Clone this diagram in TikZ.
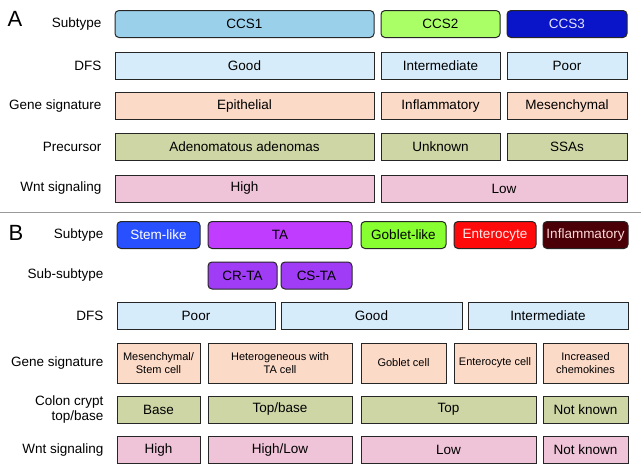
\documentclass[tikz,border=0pt]{standalone}
\usepackage{fontspec}
\setmainfont{Liberation Sans}
\usepackage{tikz}
\usetikzlibrary{positioning}
\definecolor{ccsone}{HTML}{9BD0EB}
\definecolor{ccstwo}{HTML}{AAFF66}
\definecolor{ccsthree}{HTML}{0A14C8}
\definecolor{dfsblue}{HTML}{D6ECFA}
\definecolor{genepeach}{HTML}{FCDAC8}
\definecolor{precolive}{HTML}{CED6A6}
\definecolor{wntpink}{HTML}{F0C4D8}
\definecolor{stemblue}{HTML}{2850FF}
\definecolor{tapurple}{HTML}{C03CFF}
\definecolor{subpurple}{HTML}{A03CF5}
\definecolor{gobletgreen}{HTML}{88FF30}
\definecolor{enterored}{HTML}{FF0A0A}
\definecolor{inflamred}{HTML}{4A0006}
\definecolor{linegray}{HTML}{999999}

\begin{document}
\begin{tikzpicture}[x=1pt, y=-1pt,
    every node/.style={font=\fontsize{13.5}{15}\selectfont},
    cell/.style={draw=black!85, line width=1pt, inner sep=0pt, minimum height=27pt},
    subbox/.style={cell, rounded corners=4pt},
    rowlabel/.style={anchor=east, align=right},
    panel/.style={font=\fontsize{22}{22}\selectfont},
    small/.style={font=\fontsize{11}{13.5}\selectfont, align=center}]
    \useasboundingbox (0,0) rectangle (641,474);

    % panel A
    \node[panel] (pA) at (15,19) {A};
    \node[rowlabel] (lsubA) at (105,24) {Subtype};
    \node[rowlabel] (ldfsA) at (105,65.5) {DFS};
    \node[rowlabel] (lgenA) at (105,106) {Gene signature};
    \node[rowlabel] (lpreA) at (105,147) {Precursor};
    \node[rowlabel] (lwntA) at (105,188.5) {Wnt signaling};

    \node[subbox, fill=ccsone, minimum width=259pt] (ccs1) at (244.5,24) {CCS1};
    \node[subbox, fill=ccstwo, minimum width=119pt] (ccs2) at (440.5,24) {CCS2};
    \node[subbox, fill=ccsthree, text=blue!10, minimum width=120pt] (ccs3) at (567,24) {CCS3};

    \node[cell, fill=dfsblue, minimum width=259pt] (dfsA1) at (244.5,65.5) {Good};
    \node[cell, fill=dfsblue, minimum width=119pt] (dfsA2) at (440.5,65.5) {Intermediate};
    \node[cell, fill=dfsblue, minimum width=120pt] (dfsA3) at (567,65.5) {Poor};

    \node[cell, fill=genepeach, minimum width=259pt] (genA1) at (244.5,106) {Epithelial};
    \node[cell, fill=genepeach, minimum width=119pt] (genA2) at (440.5,106) {Inflammatory};
    \node[cell, fill=genepeach, minimum width=120pt] (genA3) at (567,106) {Mesenchymal};

    \node[cell, fill=precolive, minimum width=259pt] (preA1) at (244.5,147) {Adenomatous adenomas};
    \node[cell, fill=precolive, minimum width=119pt] (preA2) at (440.5,147) {Unknown};
    \node[cell, fill=precolive, minimum width=120pt] (preA3) at (567,147) {SSAs};

    \node[cell, fill=wntpink, minimum width=259pt] (wntA1) at (244.5,188.5) {High};
    \node[cell, fill=wntpink, minimum width=246pt] (wntA2) at (504,188.5) {Low};

    % separator
    \draw[linegray, line width=0.8pt] (0,212) -- (641,212);

    % panel B
    \node[panel] (pB) at (16,233) {B};
    \node[rowlabel] (lsubB) at (107,235) {Subtype};
    \node[rowlabel] (lssbB) at (107,275.5) {Sub-subtype};
    \node[rowlabel] (ldfsB) at (107,316) {DFS};
    \node[rowlabel] (lgenB) at (107,363) {Gene signature};
    \node[rowlabel] (lcryB) at (107,409.5) {Colon crypt\\top/base};
    \node[rowlabel] (lwntB) at (107,450) {Wnt signaling};

    \node[subbox, fill=stemblue, text=white, minimum width=83pt] (stem) at (158.5,235) {Stem-like};
    \node[subbox, fill=tapurple, minimum width=144pt] (ta) at (280,235) {TA};
    \node[subbox, fill=gobletgreen, minimum width=85pt] (goblet) at (403.5,235) {Goblet-like};
    \node[subbox, fill=enterored, text=red!8, minimum width=82pt] (entero) at (495,235) {Enterocyte};
    \node[subbox, fill=inflamred, text=red!15, minimum width=85pt] (inflam) at (585.5,235) {Inflammatory};

    \node[subbox, fill=subpurple, minimum width=69pt] (crta) at (242.5,275.5) {CR-TA};
    \node[subbox, fill=subpurple, minimum width=71pt] (csta) at (316.5,275.5) {CS-TA};

    \node[cell, fill=dfsblue, minimum width=158pt] (dfsB1) at (196,316) {Poor};
    \node[cell, fill=dfsblue, minimum width=181pt] (dfsB2) at (371.5,316) {Good};
    \node[cell, fill=dfsblue, minimum width=160pt] (dfsB3) at (548,316) {Intermediate};

    \node[cell, small, fill=genepeach, minimum width=83pt, minimum height=40pt] (genB1) at (158.5,363) {Mesenchymal/\\Stem cell};
    \node[cell, small, fill=genepeach, minimum width=144pt, minimum height=40pt] (genB2) at (280,363) {Heterogeneous with\\TA cell};
    \node[cell, small, fill=genepeach, minimum width=85pt, minimum height=40pt] (genB3) at (403.5,363) {Goblet cell};
    \node[cell, small, fill=genepeach, minimum width=82pt, minimum height=40pt] (genB4) at (495,363) {Enterocyte cell};
    \node[cell, small, fill=genepeach, minimum width=85pt, minimum height=40pt] (genB5) at (585.5,363) {Increased\\chemokines};

    \node[cell, fill=precolive, minimum width=83pt] (cryB1) at (158.5,409.5) {Base};
    \node[cell, fill=precolive, minimum width=144pt] (cryB2) at (280,409.5) {Top/base};
    \node[cell, fill=precolive, minimum width=175pt] (cryB3) at (448.5,409.5) {Top};
    \node[cell, fill=precolive, minimum width=85pt] (cryB4) at (585.5,409.5) {Not known};

    \node[cell, fill=wntpink, minimum width=83pt] (wntB1) at (158.5,450) {High};
    \node[cell, fill=wntpink, minimum width=144pt] (wntB2) at (280,450) {High/Low};
    \node[cell, fill=wntpink, minimum width=175pt] (wntB3) at (448.5,450) {Low};
    \node[cell, fill=wntpink, minimum width=85pt] (wntB4) at (585.5,450) {Not known};
\end{tikzpicture}
\end{document}
